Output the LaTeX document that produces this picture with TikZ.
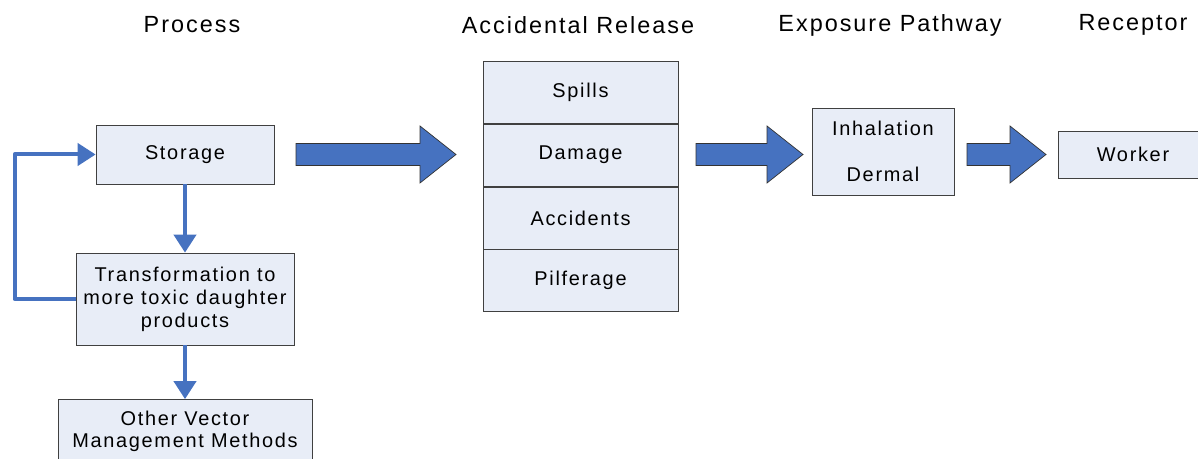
\documentclass[tikz,border=0pt]{standalone}
\usepackage{fontspec}
\setmainfont{Liberation Sans}[LetterSpace=8.5]
\usetikzlibrary{arrows.meta,positioning}

\definecolor{boxfill}{RGB}{232,237,247}
\definecolor{flowblue}{RGB}{70,114,192}

% block arrow: tail x, tip x, height
\newcommand{\blockarrow}[3]{%
  \draw[blockarrow] (#1,#3-11) -- (#2-36,#3-11) -- (#2-36,#3-28.5) -- (#2,#3)
    -- (#2-36,#3+28.5) -- (#2-36,#3+11) -- (#1,#3+11) -- cycle;}

\begin{document}
\begin{tikzpicture}[x=1bp, y=-1bp, font=\fontsize{20}{23}\selectfont,
  title/.style={font=\fontsize{23.5}{27}\selectfont},
  box/.style={draw=black!75, fill=boxfill, line width=0.7bp, align=center, inner sep=0pt},
  cell/.style={box, minimum width=195bp, minimum height=62bp},
  flow/.style={draw=flowblue, line width=4bp, line join=round, -{Triangle[width=22bp,length=18bp]}},
  blockarrow/.style={draw=black!80, fill=flowblue, line width=0.7bp}]
  \useasboundingbox (0,0) rectangle (1198,459);

  % column titles
  \node[title] (tproc) at (192,25) {Process};
  \node[title] (tacc) at (578,25) {Accidental Release};
  \node[title] (texp) at (890,25) {Exposure Pathway};
  \node[title] (trec) at (1133,25) {Receptor};

  % process column
  \node[box, minimum width=178bp, minimum height=59bp] (stor) at (185,154.5) {Storage};
  \node[box, minimum width=218bp, minimum height=92bp] (trans) at (185,299)
    {Transformation to\\more toxic daughter\\products};
  \node[box, minimum width=254bp, minimum height=63bp] (other) at (185,431)
    {Other Vector\\[-1bp]Management Methods};

  \draw[flow] (stor) -- (trans);
  \draw[flow] (trans) -- (other);
  \draw[flow] (trans.west) -- ++(-61,0) |- (stor.west);

  % release stack
  \node[cell] (spills) at (580.5,92.5) {Spills};
  \node[cell, below=0pt of spills] (damage) {Damage};
  \node[cell, below=0pt of damage] (accid) {Accidents};
  \node[cell, below=0pt of accid] (pilf) {Pilferage};

  \node[box, minimum width=142bp, minimum height=87bp] (inh) at (883,151.5)
    {Inhalation\\[23bp]Dermal};
  \node[box, minimum width=150bp, minimum height=47bp] (worker) at (1133,154.5) {Worker};

  \blockarrow{296}{456}{154.5}
  \blockarrow{696}{803}{154.5}
  \blockarrow{967}{1046}{154.5}
\end{tikzpicture}
\end{document}
